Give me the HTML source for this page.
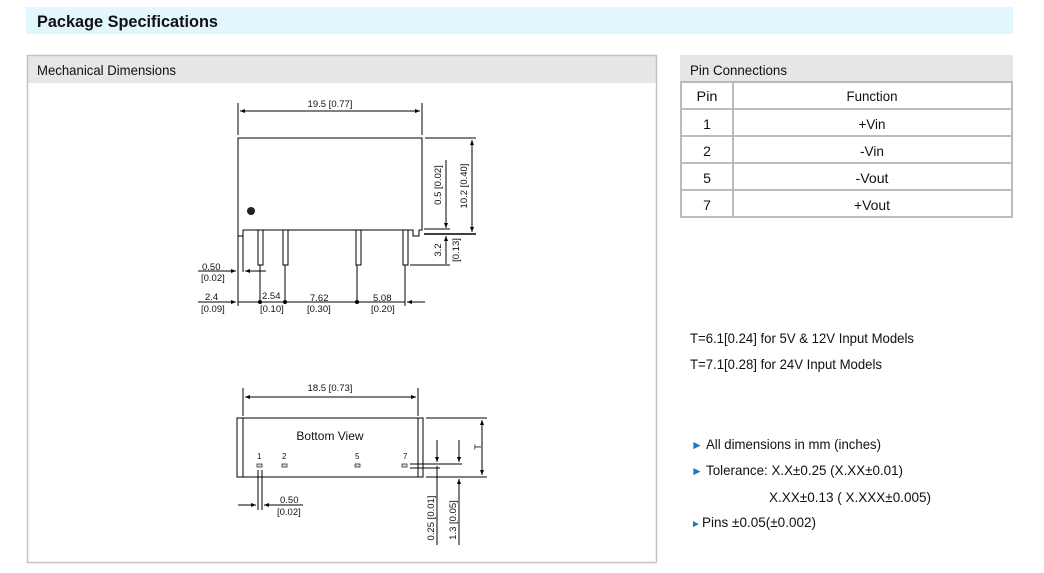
<!DOCTYPE html>
<html><head><meta charset="utf-8"><style>
body{margin:0;background:#fff;width:1044px;height:573px;overflow:hidden;font-family:"Liberation Sans",Arial,sans-serif}
svg{display:block}
text{font-family:"Liberation Sans",Arial,sans-serif}
</style></head><body>
<svg width="1044" height="573" viewBox="0 0 1044 573" xmlns="http://www.w3.org/2000/svg">
<defs>
<marker id="a" viewBox="0 0 10 10" refX="10" refY="5" markerWidth="7" markerHeight="5" orient="auto-start-reverse"><path d="M0,1 L10,5 L0,9 z" fill="#000"/></marker>
</defs>
<rect x="26" y="7" width="987" height="27" fill="#e2f6fd"/>
<text x="37" y="27" font-size="17" font-weight="bold" fill="#111" textLength="181" lengthAdjust="spacingAndGlyphs">Package Specifications</text>
<rect x="27" y="55" width="630" height="28" fill="#e6e6e6"/>
<rect x="27.5" y="55.5" width="629" height="507" fill="none" stroke="#c4c4c4" stroke-width="1.5"/>
<text x="37" y="75" font-size="14" fill="#111" textLength="139" lengthAdjust="spacingAndGlyphs">Mechanical Dimensions</text>
<rect x="680" y="55" width="333" height="28" fill="#e6e6e6"/>
<text x="690" y="75" font-size="14" fill="#111" textLength="97" lengthAdjust="spacingAndGlyphs">Pin Connections</text>
<g stroke="#bbb" stroke-width="2" fill="none">
<rect x="681" y="82" width="331" height="135"/>
<line x1="733" y1="82" x2="733" y2="217"/>
<line x1="681" y1="109" x2="1012" y2="109"/>
<line x1="681" y1="136" x2="1012" y2="136"/>
<line x1="681" y1="163" x2="1012" y2="163"/>
<line x1="681" y1="190" x2="1012" y2="190"/>
</g>
<g font-size="14" fill="#111" text-anchor="middle">
<text x="707" y="101" textLength="21" lengthAdjust="spacingAndGlyphs">Pin</text><text x="872" y="101" textLength="51" lengthAdjust="spacingAndGlyphs">Function</text>
<text x="707" y="129">1</text><text x="872" y="129" textLength="27" lengthAdjust="spacingAndGlyphs">+Vin</text>
<text x="707" y="156">2</text><text x="872" y="156" textLength="24" lengthAdjust="spacingAndGlyphs">-Vin</text>
<text x="707" y="183">5</text><text x="872" y="183" textLength="33" lengthAdjust="spacingAndGlyphs">-Vout</text>
<text x="707" y="210">7</text><text x="872" y="210" textLength="36" lengthAdjust="spacingAndGlyphs">+Vout</text>
</g>
<g font-size="14" fill="#111" lengthAdjust="spacingAndGlyphs">
<text x="690" y="343" textLength="224" lengthAdjust="spacingAndGlyphs">T=6.1[0.24] for 5V &amp; 12V Input Models</text>
<text x="690" y="369" textLength="192" lengthAdjust="spacingAndGlyphs">T=7.1[0.28] for 24V Input Models</text>
<text x="691" y="449" font-size="12" fill="#1a7bc4">►</text>
<text x="706" y="449" textLength="175" lengthAdjust="spacingAndGlyphs">All dimensions in mm (inches)</text>
<text x="691" y="475" font-size="12" fill="#1a7bc4">►</text>
<text x="706" y="475" textLength="197" lengthAdjust="spacingAndGlyphs">Tolerance: X.X±0.25 (X.XX±0.01)</text>
<text x="769" y="502" textLength="162" lengthAdjust="spacingAndGlyphs">X.XX±0.13 ( X.XXX±0.005)</text>
<text x="691" y="527" font-size="10" fill="#1a7bc4">►</text>
<text x="702" y="527" textLength="114" lengthAdjust="spacingAndGlyphs">Pins ±0.05(±0.002)</text>
</g>
<g stroke="#000" stroke-width="1" fill="none">
<path d="M238,138 H422 V230 H419 V236 H413 V230 H243 V236 H238 Z"/>
<rect x="258" y="230" width="5" height="35"/>
<rect x="283" y="230" width="5" height="35"/>
<rect x="356" y="230" width="5" height="35"/>
<rect x="403" y="230" width="5" height="35"/>
<line x1="238" y1="103" x2="238" y2="135"/>
<line x1="422" y1="103" x2="422" y2="135"/>
<line x1="240" y1="111" x2="420" y2="111" marker-start="url(#a)" marker-end="url(#a)"/>
<line x1="425" y1="138" x2="476" y2="138"/>
<line x1="472" y1="140" x2="472" y2="232" marker-start="url(#a)" marker-end="url(#a)"/>
<line x1="424" y1="234" x2="476" y2="234" stroke-width="1.5"/>
<line x1="424" y1="229" x2="450" y2="229"/>
<line x1="446" y1="160" x2="446" y2="228" marker-end="url(#a)"/>
<line x1="446" y1="236" x2="446" y2="264" marker-start="url(#a)"/>
<line x1="410" y1="265" x2="450" y2="265"/>
<line x1="238" y1="236" x2="238" y2="306"/>
<line x1="243" y1="236" x2="243" y2="272"/>
<line x1="260" y1="265" x2="260" y2="303"/>
<line x1="285" y1="265" x2="285" y2="303"/>
<line x1="357" y1="265" x2="357" y2="303"/>
<line x1="405" y1="265" x2="405" y2="306"/>
<line x1="198" y1="271" x2="236" y2="271" marker-end="url(#a)"/>
<line x1="265" y1="271" x2="245" y2="271" marker-end="url(#a)"/>
<line x1="245" y1="271" x2="266" y2="271"/>
<line x1="198" y1="302" x2="236" y2="302" marker-end="url(#a)"/>
<line x1="238" y1="302" x2="405" y2="302"/>
<line x1="425" y1="302" x2="407" y2="302" marker-end="url(#a)"/>
</g>
<circle cx="251" cy="211" r="4" fill="#222"/>
<g fill="#000"><circle cx="260" cy="302" r="2"/><circle cx="285" cy="302" r="2"/><circle cx="357" cy="302" r="2"/></g>
<g font-size="9.5" fill="#111">
<text x="330" y="107" text-anchor="middle">19.5 [0.77]</text>
<text x="202" y="270">0.50</text><text x="201" y="281">[0.02]</text>
<text x="205" y="300">2.4</text><text x="201" y="312">[0.09]</text>
<text x="262" y="299">2.54</text><text x="260" y="312">[0.10]</text>
<text x="310" y="301">7.62</text><text x="307" y="312">[0.30]</text>
<text x="373" y="301">5.08</text><text x="371" y="312">[0.20]</text>
<text transform="translate(441,185) rotate(-90)" text-anchor="middle">0.5 [0.02]</text>
<text transform="translate(467,186) rotate(-90)" text-anchor="middle">10.2 [0.40]</text>
<text transform="translate(441,250) rotate(-90)" text-anchor="middle">3.2</text>
<text transform="translate(459,250) rotate(-90)" text-anchor="middle">[0.13]</text>
</g>
<g stroke="#000" stroke-width="1" fill="none">
<rect x="237" y="418" width="186" height="59"/>
<line x1="243" y1="418" x2="243" y2="477"/>
<line x1="418" y1="418" x2="418" y2="477"/>
<line x1="243" y1="388" x2="243" y2="416"/>
<line x1="418" y1="388" x2="418" y2="416"/>
<line x1="245" y1="397" x2="416" y2="397" marker-start="url(#a)" marker-end="url(#a)"/>
<line x1="426" y1="418" x2="487" y2="418"/>
<line x1="426" y1="477" x2="487" y2="477"/>
<line x1="482" y1="420" x2="482" y2="475" marker-start="url(#a)" marker-end="url(#a)"/>
<line x1="410" y1="464" x2="462" y2="464"/>
<line x1="410" y1="468" x2="440" y2="468"/>
<line x1="437" y1="440" x2="437" y2="462" marker-end="url(#a)"/>
<line x1="437" y1="466" x2="437" y2="545"/>
<line x1="459" y1="440" x2="459" y2="462" marker-end="url(#a)"/>
<line x1="459" y1="480" x2="459" y2="545"/>
<line x1="459" y1="490" x2="459" y2="479" marker-end="url(#a)"/>
<line x1="258" y1="470" x2="258" y2="510"/>
<line x1="262" y1="470" x2="262" y2="510"/>
<line x1="238" y1="505" x2="256" y2="505" marker-end="url(#a)"/>
<line x1="280" y1="505" x2="264" y2="505" marker-end="url(#a)"/>
<line x1="276" y1="505" x2="303" y2="505"/>
</g>
<g fill="#ddd" stroke="#333" stroke-width="0.8">
<rect x="257" y="464" width="5" height="3"/><rect x="282" y="464" width="5" height="3"/>
<rect x="355" y="464" width="5" height="3"/><rect x="402" y="464" width="5" height="3"/>
</g>
<g font-size="9.5" fill="#111">
<text x="330" y="391" text-anchor="middle">18.5 [0.73]</text>
<text x="330" y="440" text-anchor="middle" font-size="12">Bottom View</text>
<text x="257" y="459" font-size="8">1</text><text x="282" y="459" font-size="8">2</text>
<text x="355" y="459" font-size="8">5</text><text x="403" y="459" font-size="8">7</text>
<text x="280" y="503">0.50</text><text x="277" y="515">[0.02]</text>
<text transform="translate(434,518) rotate(-90)" text-anchor="middle">0.25 [0.01]</text>
<text transform="translate(456,520) rotate(-90)" text-anchor="middle">1.3 [0.05]</text>
<text transform="translate(481,447) rotate(-90)" text-anchor="middle">T</text>
</g>
</svg>
</body></html>
